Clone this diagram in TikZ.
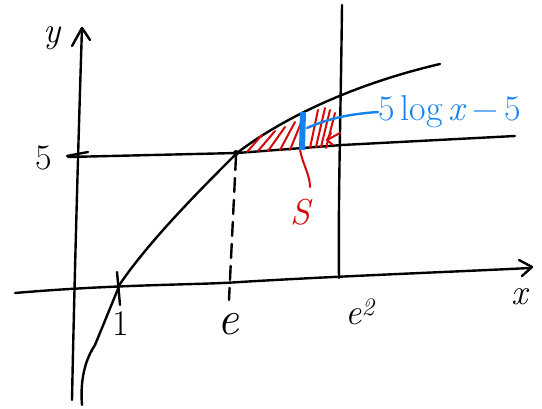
\documentclass[tikz,border=0pt]{standalone}
\usepackage{fontspec}
\usetikzlibrary{calc}
\definecolor{pblue}{RGB}{20,130,240}
\definecolor{pred}{RGB}{210,10,10}
\tikzset{
  pen/.style={line width=2.4pt, line cap=round, line join=round, black},
  redpen/.style={line width=2pt, line cap=round, line join=round, pred},
  bluepen/.style={line width=2.4pt, line cap=round, line join=round, pblue},
  lbl/.style={inner sep=0pt, font=\fontsize{36}{36}\selectfont},
}
\begin{document}
\begin{tikzpicture}[x=1pt,y=-1pt]
\useasboundingbox (0,0) rectangle (542,409);
% axes
\draw[pen] (72,400) .. controls (74,300) and (78,150) .. (82,28);
\draw[pen] (72,46) -- (82,28) -- (90,40);
\draw[pen] (15,293) .. controls (120,284) and (200,285) .. (240,282) .. controls (340,276) and (450,272) .. (530,268);
\draw[pen] (519,260) -- (532,267) -- (522,276);
% line y=5
\draw[pen] (68,157) -- (237,153) -- (342,145) -- (515,136);
\draw[pen] (67,156) -- (88,152);
% vertical at e^2
\draw[pen] (342,5) .. controls (341,100) and (338,200) .. (339,278);
% dashed at e
\draw[pen, dash pattern=on 14pt off 8pt] (236,156) -- (229,300);
% tick at 1
\draw[pen] (117,272) -- (120,305);
% curve
\draw[pen] (82,405) .. controls (80,380) and (85,360) .. (95,345) -- (120,284) .. controls (150,240) and (200,190) .. (237,153) .. controls (280,120) and (350,85) .. (440,64);
\fill (236,153) circle (3pt);
% hatching
\foreach \ax/\ay/\bx/\by in {247/152/262/135, 258/151/275/131, 268/151/285/127, 280/150/295/122, 290/150/303/118, 310/148/318/110, 316/147/325/108, 321/147/330/110, 326/148/335/113}
  \draw[redpen] (\ax,\ay) -- (\bx,\by);
\draw[redpen] (327,140) -- (340,133) (331,133) -- (327,140) -- (333,145);
% red S label
\draw[redpen] (300,150) .. controls (303,165) and (310,175) .. (310,187);
\node[lbl, text=pred] (S) at (300,212) {\itshape S};
% blue bar and label
\draw[pblue, line width=6pt] (303,112) -- (302,150);
\node[lbl, text=pblue, anchor=west, font=\fontsize{36}{36}\selectfont] (F) at (378,112) {5\,log\,\textit{x}\,−\,5};
\draw[bluepen] (307,128) .. controls (330,118) and (350,114) .. (F.west);
% labels
\node[lbl] (Y) at (52,38) {\itshape y};
\node[lbl] (X) at (520,297) {\itshape x};
\node[lbl] (five) at (44,158) {5};
\node[lbl] (one) at (121,324) {1};
\node[lbl, font=\fontsize{48}{48}\selectfont] (E) at (228,324) {\itshape e};
\node[lbl] (E2) at (360,312) {\itshape e\textsuperscript{2}};
\end{tikzpicture}
\end{document}
